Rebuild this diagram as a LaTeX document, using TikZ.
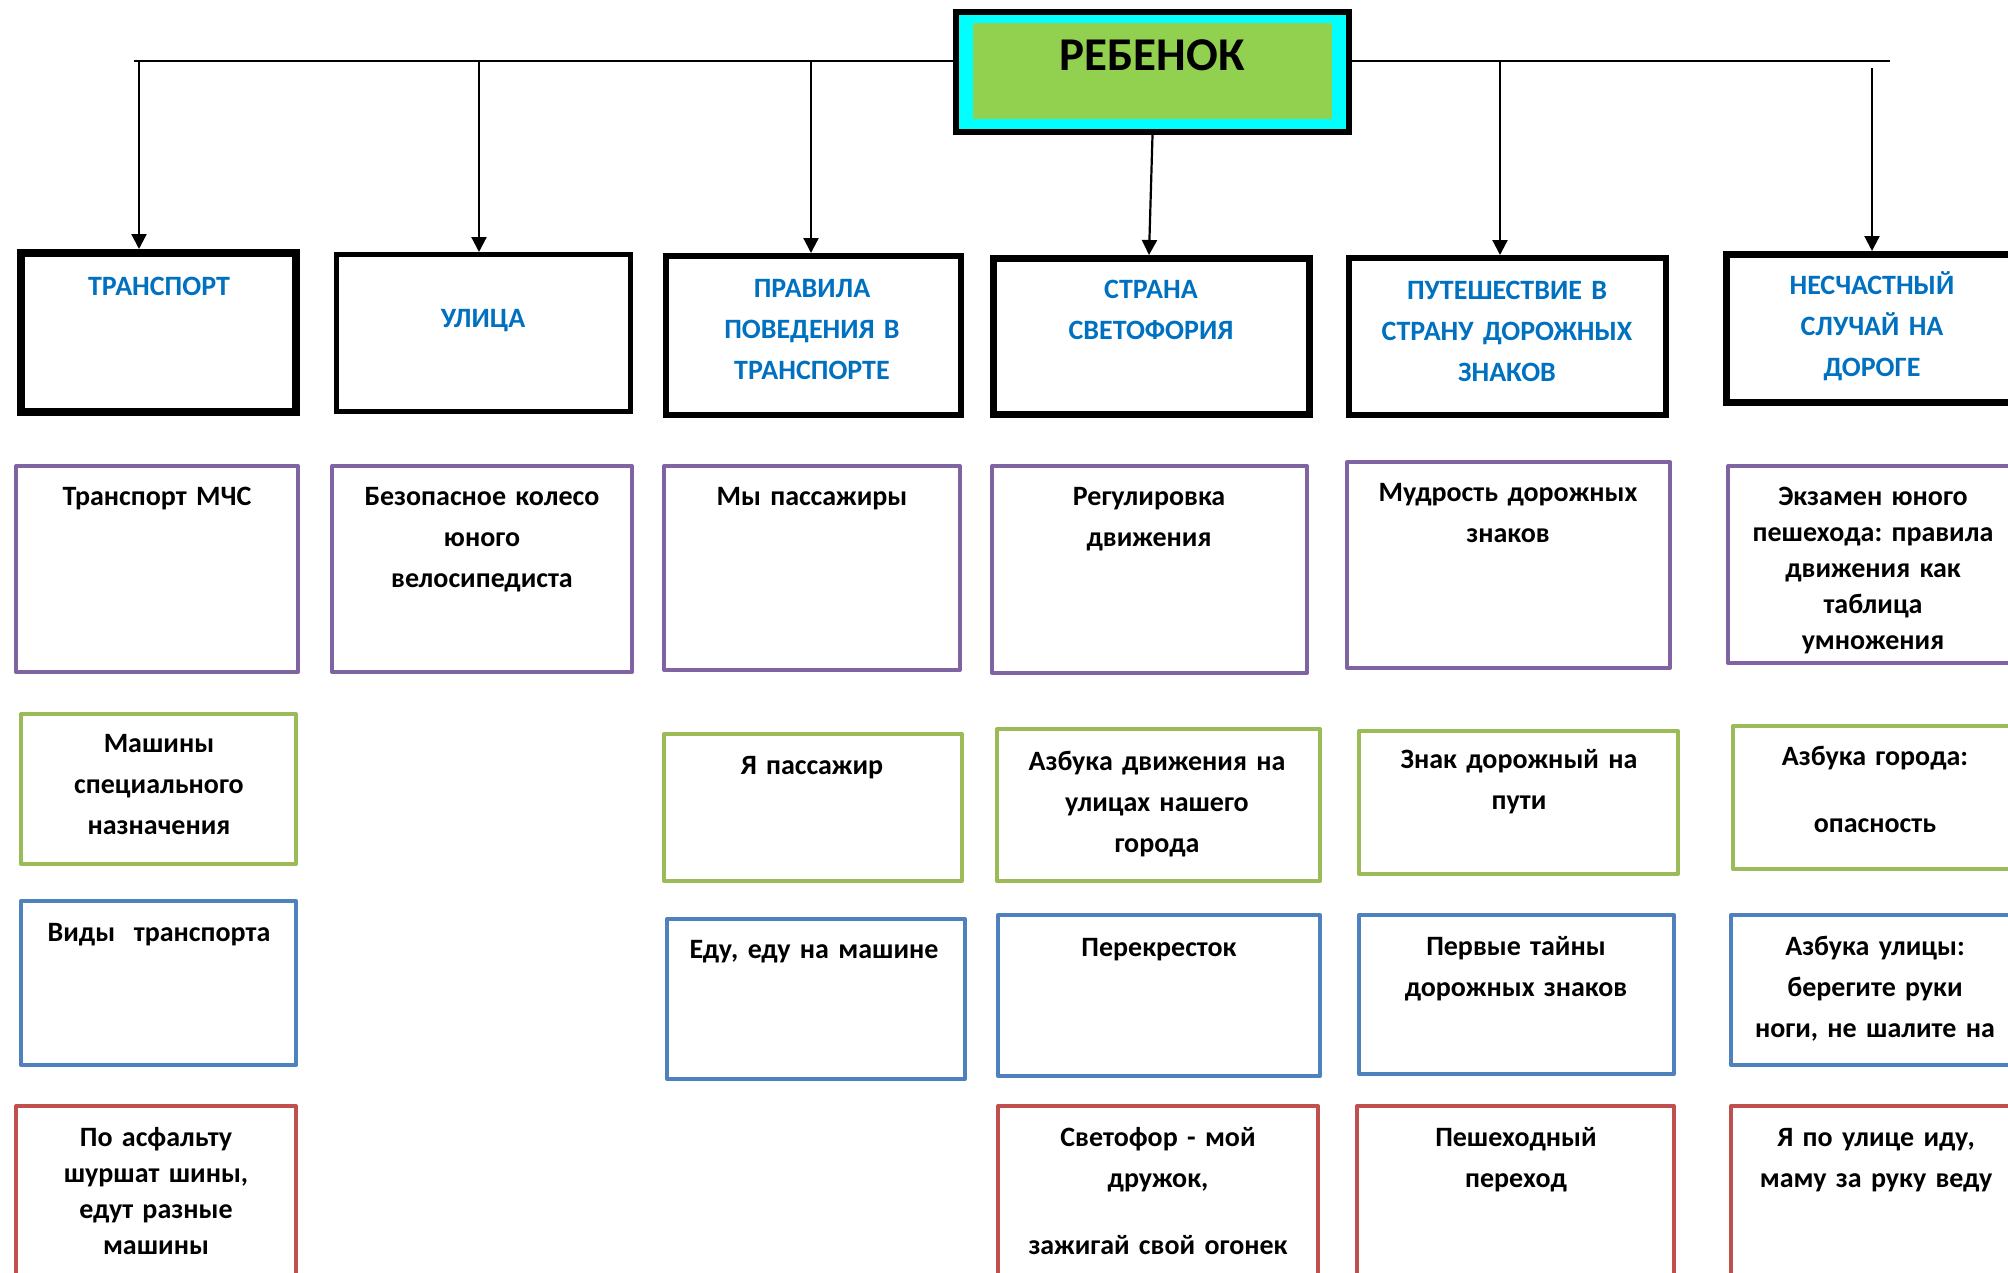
\documentclass[tikz,border=0pt]{standalone}
\usepackage{fontspec}
\setmainfont{Carlito}
\frenchspacing
\usetikzlibrary{arrows.meta}
\definecolor{hdrblue}{HTML}{0070C0}
\definecolor{bpurple}{HTML}{8064A2}
\definecolor{bgreen}{HTML}{9BBB59}
\definecolor{bblue}{HTML}{4F81BD}
\definecolor{bred}{HTML}{C0504D}
\definecolor{rootgreen}{HTML}{92D050}
\definecolor{rootcyan}{HTML}{00FFFF}
\newcommand\bx[9]{%
  \node[#2, minimum width=#5, minimum height=#6] (#1) at (#3,#4) {};
  \node[txt, anchor=base] (#1t) at (#7,#8) {#9};}
\newcommand\hb[9]{%
  \node[#2, minimum width=#5, minimum height=#6] (#1) at (#3,#4) {};
  \node[txt, text=hdrblue, anchor=base] (#1t) at (#7,#8) {#9};}
\begin{document}
\begin{tikzpicture}[x=1pt,y=-1pt,
  box/.style={rectangle, draw, fill=white, inner sep=0pt},
  l1/.style={box, draw=black},
  pbox/.style={box, draw=bpurple, line width=4pt, line join=round},
  gbox/.style={box, draw=bgreen, line width=4pt, line join=round},
  ubox/.style={box, draw=bblue, line width=4pt, line join=round},
  rbox/.style={box, draw=bred, line width=4pt, line join=round},
  txt/.style={text width=340pt, align=center, inner sep=0pt,
    font=\bfseries\fontsize{28}{41}\selectfont},
  conn/.style={line width=2.2pt},
  arr/.style={conn, -{Triangle[length=15pt,width=15pt]}}]
\useasboundingbox (0,0) rectangle (2008,1272);
\clip (0,0) rectangle (2008,1272);

% bus line and root
\coordinate (busL) at (134,61);
\coordinate (busR) at (1890,61);
\node[draw=black, line width=6pt, fill=rootcyan, inner sep=0pt,
  minimum width=393, minimum height=120] (root) at (1152.5,72) {};
\draw[conn] (busL) -- (busL -| root.west);
\draw[conn] (busR -| root.east) -- (busR);
\node[fill=rootgreen, inner sep=0pt, minimum width=359, minimum height=96] (rootin) at (1152.5,71) {};
\node[font=\bfseries\fontsize{47}{50}\selectfont, anchor=base, inner sep=0pt] (roott) at (1152,70) {РЕБЕНОК};

% level 1
\hb{t1}{l1, line width=8pt}{158.5}{332.5}{275}{159}{159}{295}{ТРАНСПОРТ}
\hb{t2}{l1, line width=5pt}{483.5}{333}{294}{157}{483}{327}{УЛИЦА}
\hb{t3}{l1, line width=6pt}{813.5}{335.5}{295}{159}{812}{297}{ПРАВИЛА\\ ПОВЕДЕНИЯ В\\ ТРАНСПОРТЕ}
\hb{t4}{l1, line width=7pt}{1151.5}{336.5}{316}{156}{1151}{298}{СТРАНА\\ СВЕТОФОРИЯ}
\hb{t5}{l1, line width=6pt}{1507.5}{336.5}{317}{157}{1507}{299}{ПУТЕШЕСТВИЕ В\\ СТРАНУ ДОРОЖНЫХ\\ ЗНАКОВ}
\hb{t6}{l1, line width=7pt}{1872}{328.5}{291}{148}{1872}{294}{НЕСЧАСТНЫЙ\\ СЛУЧАЙ НА\\ ДОРОГЕ}

% level 2 (purple)
\bx{p1}{pbox}{157}{569}{282}{206}{157}{505}{Транспорт МЧС}
\bx{p2}{pbox}{482}{569}{300}{206}{482}{505}{Безопасное колесо\\ юного\\ велосипедиста}
\bx{p3}{pbox}{812}{568}{296}{204}{812}{505}{Мы пассажиры}
\bx{p4}{pbox}{1149.5}{569.5}{315}{207}{1149}{505}{Регулировка\\ движения}
\bx{p5}{pbox}{1508.5}{565}{323}{206}{1508}{501}{Мудрость дорожных\\ знаков}
\bx{p6}{pbox}{1873}{564.5}{290}{197}{1873}{505}{Экзамен юного\\[-5pt] пешехода: правила\\[-5pt] движения как\\[-5pt] таблица\\[-5pt] умножения}

% level 3 (green)
\bx{g1}{gbox}{158.5}{789}{275}{150}{159}{752}{Машины\\ специального\\ назначения}
\bx{g3}{gbox}{813}{807.5}{298}{147}{812}{774}{Я пассажир}
\bx{g4}{gbox}{1158.5}{805}{323}{152}{1157}{770}{Азбука движения на\\ улицах нашего\\ города}
\bx{g5}{gbox}{1518.5}{802.5}{319}{143}{1519}{768}{Знак дорожный на\\ пути}
\bx{g6}{gbox}{1875}{797.5}{284}{143}{1875}{765}{Азбука города:\\[26pt] опасность}

% level 4 (blue)
\bx{u1}{ubox}{158.5}{983}{275}{164}{159}{941}{Виды~~транспорта}
\bx{u3}{ubox}{816}{999}{298}{160}{814}{958}{Еду, еду на машине}
\bx{u4}{ubox}{1159}{995.5}{322}{161}{1159}{956}{Перекресток}
\bx{u5}{ubox}{1516.5}{994.5}{315}{159}{1516}{955}{Первые тайны\\ дорожных знаков}
\bx{u6}{ubox}{1875}{990}{288}{150}{1875}{955}{Азбука улицы:\\ берегите руки\\ ноги, не шалите на}

% level 5 (red)
\bx{r1}{rbox}{156}{1197}{280}{182}{156}{1146}{По асфальту\\[-5pt] шуршат шины,\\[-5pt] едут разные\\[-5pt] машины}
\bx{r4}{rbox}{1158}{1197}{320}{182}{1158}{1146}{Светофор - мой\\ дружок,\\[26pt] зажигай свой огонек}
\bx{r5}{rbox}{1515.5}{1197}{317}{182}{1516}{1146}{Пешеходный\\ переход}
\bx{r6}{rbox}{1876}{1197}{290}{182}{1876}{1146}{Я по улице иду,\\ маму за руку веду}

% arrows
\coordinate (a1) at (139,61);
\coordinate (a2) at (479,61);
\coordinate (a3) at (811,61);
\coordinate (a5) at (1500,61);
\coordinate (a6) at (1872,68);
\coordinate (a4e) at (1149,255);
\draw[arr] (a1) -- (a1 |- t1.north);
\draw[arr] (a2) -- (a2 |- t2.north);
\draw[arr] (a3) -- (a3 |- t3.north);
\draw[arr] (root.south) -- (a4e);
\draw[arr] (a5) -- (a5 |- t5.north);
\draw[arr] (a6) -- (a6 |- t6.north);
\end{tikzpicture}
\end{document}
